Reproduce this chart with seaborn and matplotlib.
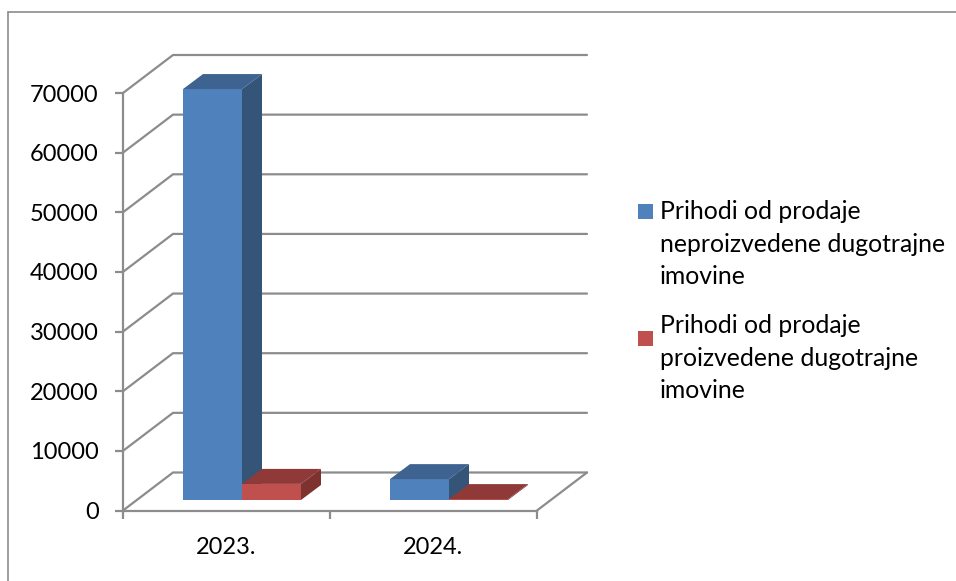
import matplotlib
matplotlib.use("Agg")
import matplotlib.pyplot as plt
import pandas as pd
import seaborn as sns
from matplotlib.patches import Polygon, Rectangle

# --------------------
# DATA
# --------------------
years = ["2023.", "2024."]
neproizvedena = [68900, 3500]
proizvedena = [2700, 150]
series_names = ["Prihodi od prodaje\nneproizvedene dugotrajne\nimovine",
                "Prihodi od prodaje\nproizvedene dugotrajne\nimovine"]
y_ticks = [0, 10000, 20000, 30000, 40000, 50000, 60000, 70000]

# colours: front, top, side
blue = ["#4F81BD", "#3E6390", "#345478"]
red = ["#C0504D", "#8F3A38", "#7D3230"]
grey = "#8C8C8C"

W, H = 956, 581
sns.set_theme(style="white")
plt.rcParams["font.family"] = ["Lato", "DejaVu Sans"]

df = pd.DataFrame({
    "year": years * 2,
    "value": neproizvedena + proizvedena,
    "series": [series_names[0]] * 2 + [series_names[1]] * 2,
})

fig = plt.figure(figsize=(W / 100, H / 100), dpi=100)
ax = fig.add_axes([123 / W, 1 - 510.5 / H, 414 / W, 417.5 / H])

sns.barplot(data=df, x="year", y="value", hue="series", order=years,
            palette=[blue[0], red[0]], width=0.57, gap=0, dodge=True,
            legend=False, ax=ax, zorder=3, saturation=1)
ax.set_xlim(-0.5, 1.5)
ax.set_ylim(0, 70000)
ax.set_xlabel("")
ax.set_ylabel("")

# pixel sizes turned into data units
px_x = 2 / 414
px_y = 70000 / 417.5
wall_dx, wall_dy = 50 * px_x, 38 * px_y
bar_dx, bar_dy = 15.5 * px_x, 10.5 * px_y
side_dx, side_dy = 20 * px_x, 15 * px_y

# back wall, floor and gridlines
wall_right = 1.5 + wall_dx
for t in y_ticks:
    ax.plot([-0.5, -0.5 + wall_dx, wall_right], [t, t + wall_dy, t + wall_dy],
            color=grey, lw=1.6, clip_on=False, zorder=1, solid_joinstyle="miter")
ax.plot([1.5, wall_right], [0, wall_dy], color=grey, lw=1.6, clip_on=False, zorder=1)

# bars with top and side faces, red ones drawn over the blue ones
bars = [p for p in ax.patches if isinstance(p, Rectangle)]
for i, bar in enumerate(bars):
    cols = blue if i < 2 else red
    layer = 3 if i < 2 else 4
    bar.set_x(bar.get_x() + bar_dx)
    bar.set_y(bar_dy)
    bar.set_clip_on(False)
    bar.set_edgecolor("none")
    bar.set_zorder(layer)
    x0 = bar.get_x()
    x1 = x0 + bar.get_width()
    y0 = bar.get_y()
    y1 = y0 + bar.get_height()
    top = Polygon([(x0, y1), (x1, y1), (x1 + side_dx, y1 + side_dy), (x0 + side_dx, y1 + side_dy)],
                  facecolor=cols[1], edgecolor="none", clip_on=False, zorder=layer)
    side = Polygon([(x1, y0), (x1 + side_dx, y0 + side_dy), (x1 + side_dx, y1 + side_dy), (x1, y1)],
                   facecolor=cols[2], edgecolor="none", clip_on=False, zorder=layer)
    ax.add_patch(side)
    ax.add_patch(top)

# axes
sns.despine(ax=ax)
for s in ["left", "bottom"]:
    ax.spines[s].set_color(grey)
    ax.spines[s].set_linewidth(1.6)
ax.set_yticks(y_ticks)
ax.tick_params(axis="y", left=True, length=5.5, width=1.6, color=grey, pad=12,
               labelsize=17, labelcolor="black")
ax.set_xticks([-0.5, 0.5, 1.5])
ax.set_xticklabels([])
ax.tick_params(axis="x", bottom=True, length=5.5, width=1.6, color=grey)
ax.set_xticks([0, 1], labels=years, minor=True)
ax.tick_params(axis="x", which="minor", bottom=False, pad=15, labelsize=17, labelcolor="black")

# legend
legend_rows = [(204, blue[0], series_names[0], 200), (331, red[0], series_names[1], 314)]
for box_top, colour, name, text_top in legend_rows:
    fig.add_artist(Rectangle((638 / W, 1 - (box_top + 15) / H), 15 / W, 15 / H,
                             transform=fig.transFigure, facecolor=colour, edgecolor="none"))
    fig.text(660 / W, 1 - text_top / H, name, va="top", ha="left", fontsize=17.8,
             color="black", linespacing=1.51)

# chart frame
for xs, ys in [([8, 8], [H, 12]), ([8, W], [12, 12])]:
    fig.add_artist(plt.Line2D([x / W for x in xs], [1 - y / H for y in ys],
                              color=grey, lw=1.2, transform=fig.transFigure))

fig.savefig("out.png", dpi=100)
plt.close()
